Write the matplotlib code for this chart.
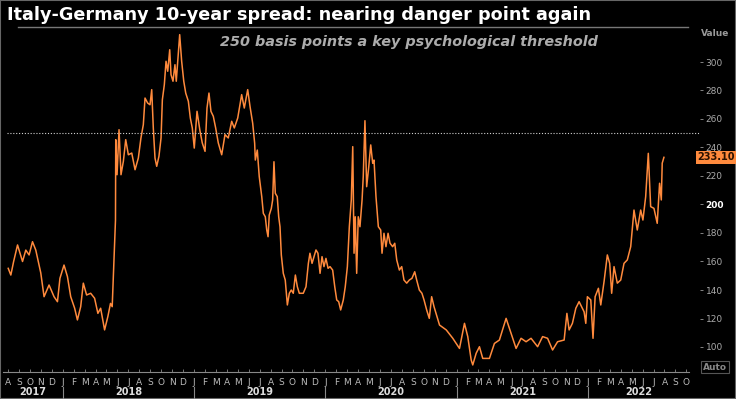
import matplotlib
matplotlib.use('Agg')
import matplotlib.pyplot as plt
from matplotlib import transforms
from matplotlib.patches import Rectangle
from matplotlib.lines import Line2D

# ---------------- data (decimal year, basis points) ----------------
dates = [
    2017.585, 2017.605, 2017.626, 2017.656, 2017.694, 2017.719, 2017.744, 2017.770,
    2017.795, 2017.833, 2017.858, 2017.896, 2017.934, 2017.960, 2017.979, 2018.010,
    2018.036, 2018.061, 2018.091, 2018.112, 2018.137, 2018.157, 2018.182, 2018.213,
    2018.243, 2018.268, 2018.289, 2018.319, 2018.344, 2018.364, 2018.377, 2018.402,
    2018.404, 2018.414, 2018.429, 2018.444, 2018.462, 2018.480, 2018.500, 2018.526,
    2018.551, 2018.576, 2018.596, 2018.614, 2018.627, 2018.647, 2018.665, 2018.678,
    2018.690, 2018.703, 2018.716, 2018.733, 2018.749, 2018.759, 2018.774, 2018.787,
    2018.800, 2018.815, 2018.825, 2018.840, 2018.855, 2018.865, 2018.876, 2018.891,
    2018.906, 2018.922, 2018.937, 2018.957, 2018.972, 2018.987, 2019.002, 2019.023,
    2019.046, 2019.063, 2019.084, 2019.099, 2019.114, 2019.129, 2019.147, 2019.165,
    2019.185, 2019.211, 2019.236, 2019.261, 2019.287, 2019.307, 2019.333, 2019.363,
    2019.383, 2019.409,
    2019.427, 2019.447, 2019.462, 2019.467, 2019.482, 2019.497, 2019.516, 2019.528,
    2019.543, 2019.554, 2019.564, 2019.573, 2019.589, 2019.599, 2019.609, 2019.619,
    2019.634, 2019.645, 2019.655, 2019.665, 2019.680, 2019.695, 2019.711, 2019.726,
    2019.741, 2019.756, 2019.772, 2019.787, 2019.802, 2019.832, 2019.853, 2019.871,
    2019.883, 2019.899, 2019.914, 2019.929, 2019.944, 2019.960, 2019.975, 2019.990,
    2020.005, 2020.021, 2020.036, 2020.056, 2020.072, 2020.087, 2020.102, 2020.117,
    2020.137, 2020.152, 2020.168, 2020.183, 2020.198, 2020.209, 2020.219, 2020.228,
    2020.239, 2020.251, 2020.264, 2020.280, 2020.289, 2020.302, 2020.315, 2020.331,
    2020.346, 2020.361, 2020.371, 2020.386, 2020.404, 2020.422, 2020.432, 2020.447,
    2020.462, 2020.478, 2020.493, 2020.513, 2020.529, 2020.544, 2020.564, 2020.582,
    2020.599, 2020.620, 2020.640, 2020.660, 2020.681, 2020.696, 2020.716, 2020.736,
    2020.752, 2020.772, 2020.792, 2020.810, 2020.828, 2020.843,
    2020.870, 2020.921, 2020.971, 2021.022, 2021.060, 2021.085, 2021.111, 2021.123,
    2021.149, 2021.174, 2021.199, 2021.250, 2021.288, 2021.326, 2021.377, 2021.415,
    2021.453, 2021.491, 2021.529, 2021.567, 2021.617, 2021.655, 2021.693, 2021.731,
    2021.769, 2021.819, 2021.840, 2021.857, 2021.882, 2021.908, 2021.933, 2021.971,
    2021.984, 2021.996, 2022.022, 2022.039, 2022.055, 2022.080, 2022.098, 2022.123,
    2022.148, 2022.166, 2022.181, 2022.199, 2022.224, 2022.250, 2022.275, 2022.300,
    2022.326, 2022.351, 2022.376, 2022.402, 2022.419, 2022.440, 2022.460, 2022.478,
    2022.503, 2022.528, 2022.546, 2022.559, 2022.566, 2022.579,
]
spread = [
    155.2, 150.5, 159.9, 171.6, 160.0, 168.0, 164.6, 173.9,
    168.0, 152.0, 135.3, 143.5, 135.3, 131.8, 148.2, 157.5,
    149.4, 135.3, 127.2, 119.0, 128.3, 144.8, 136.5, 137.7,
    134.2, 123.6, 127.2, 112.0, 121.4, 130.6, 128.3, 189.0,
    245.5, 220.9, 252.5, 220.9, 230.3, 245.5, 234.9, 236.1,
    224.4, 232.6, 246.7, 256.0, 274.7, 271.2, 270.0, 280.6,
    253.7, 232.6, 226.8, 233.8, 246.7, 273.5, 284.1, 300.5,
    293.5, 308.6, 291.1, 286.5, 298.1, 286.5, 300.5, 319.2,
    300.5, 286.5, 278.2, 272.4, 260.7, 253.7, 239.6, 265.4,
    251.4, 243.2, 237.3, 267.7, 278.2, 265.4, 261.9, 253.7,
    243.2, 234.9, 249.0, 246.7, 258.4, 253.7, 260.7, 277.1,
    267.7, 280.6,
    268.6, 257.0, 243.0, 231.2, 238.2, 219.5, 205.5, 193.8,
    191.4, 182.1, 177.4, 192.6, 197.3, 203.2, 230.0, 207.9,
    205.5, 191.4, 184.4, 164.6, 151.7, 147.0, 129.5, 137.7,
    140.0, 137.7, 150.5, 142.3, 137.7, 137.7, 142.3, 158.7,
    165.8, 158.7, 163.4, 168.1, 165.8, 151.7, 163.4, 156.4,
    162.2, 155.2, 156.4, 154.0, 142.3, 133.0, 131.8, 126.0,
    133.0, 142.3, 156.4, 184.4, 203.2, 240.6, 165.8, 191.4,
    151.7, 191.4, 184.4, 203.2, 219.5, 258.8, 212.5, 226.5,
    241.8, 228.9, 231.2, 205.5, 184.4, 182.1, 165.8, 179.8,
    170.4, 179.8, 172.8, 170.4, 172.8, 161.1, 154.0, 156.4,
    147.0, 144.8, 147.0, 148.2, 152.8, 147.0, 140.0, 137.7,
    133.0, 126.0, 120.1, 135.3, 128.3, 123.6,
    115.4, 112.0, 106.1, 99.0, 116.6, 107.3, 90.9, 87.4,
    95.6, 100.2, 92.0, 92.0, 102.5, 104.9, 120.1, 109.6,
    99.0, 106.1, 103.7, 106.1, 100.2, 107.3, 106.1, 97.9,
    103.7, 104.9, 123.6, 112.0, 116.6, 127.2, 131.8, 124.7,
    116.6, 135.3, 133.0, 106.1, 135.3, 141.2, 129.5, 145.9,
    164.6, 158.7, 137.7, 156.4, 144.8, 147.0, 158.7, 161.1,
    170.4, 196.1, 182.1, 196.1, 189.1, 205.5, 235.9, 198.5,
    197.3, 186.8, 214.9, 203.2, 229.0, 233.1,
]
y_ticks = [100, 120, 140, 160, 180, 200, 220, 240, 260, 280, 300]
month_letters = ['J', 'F', 'M', 'A', 'M', 'J', 'J', 'A', 'S', 'O', 'N', 'D']
years = [2017, 2018, 2019, 2020, 2021, 2022]
threshold = 250
last_value = 233.10
title = 'Italy-Germany 10-year spread: nearing danger point again'
subtitle = '250 basis points a key psychological threshold'

# ---------------- layout ----------------
W, H = 736, 399
ORANGE = '#ff8a3d'
fig = plt.figure(figsize=(W / 100, H / 100), dpi=100, facecolor='black')

ax_left, ax_right, ax_top, ax_bot = 3, 700, 28, 372
ax = fig.add_axes([ax_left / W, 1 - ax_bot / H, (ax_right - ax_left) / W, (ax_bot - ax_top) / H])
ax.set_facecolor('black')

x0_px, px_per_year = 62.7, 131.3
ax.set_xlim(2018 + (ax_left - x0_px) / px_per_year, 2018 + (ax_right - x0_px) / px_per_year)
y300_px, px_per_unit = 62, 1.425
ax.set_ylim(300 - (ax_bot - y300_px) / px_per_unit, 300 + (y300_px - ax_top) / px_per_unit)

ax.plot(dates, spread, color=ORANGE, lw=1.1, solid_joinstyle='round')
ax.axhline(threshold, xmin=4 / (ax_right - ax_left), xmax=1.0, color='#d0d0d0',
           lw=0.8, linestyle=(0, (1, 1.6)))

# x axis: month letters
mt, ml = [], []
for yr in range(2017, 2023):
    for m in range(1, 13):
        if (yr == 2017 and m < 8) or (yr == 2022 and m > 10):
            continue
        mt.append(yr + (m - 1) / 12)
        ml.append(month_letters[m - 1])
ax.set_xticks(mt)
ax.set_xticklabels(ml)
ax.tick_params(axis='x', direction='in', length=2, width=0.6, color='#888888',
               labelcolor='#bbbbbb', labelsize=6.5, pad=4)

# y axis on right
ax.yaxis.tick_right()
ax.set_yticks(y_ticks)
ax.set_yticklabels([str(v) for v in y_ticks])
ax.tick_params(axis='y', direction='out', length=2.5, width=0.6, color='#999999',
               labelcolor='#aaaaaa', labelsize=6.5, pad=1.5)
for lab, v in zip(ax.get_yticklabels(), y_ticks):
    if v == 200:
        lab.set_color('white')
        lab.set_fontweight('bold')

for s in ['top', 'left', 'right']:
    ax.spines[s].set_visible(False)
ax.spines['bottom'].set_color('#888888')
ax.spines['bottom'].set_linewidth(0.8)
ax.spines['bottom'].set_bounds(ax.get_xlim()[0], 2018 + (689 - x0_px) / px_per_year)

# year labels and separators
bt = transforms.blended_transform_factory(ax.transData, fig.transFigure)
xmin, xmax_lab = ax.get_xlim()[0], 2018 + (689 - x0_px) / px_per_year
for yr in years:
    a = max(yr, xmin)
    b = min(yr + 1, xmax_lab)
    fig.text((a + b) / 2, 1 - 392 / H, str(yr), transform=bt, ha='center', va='center',
             color='#dddddd', fontsize=7, fontweight='bold')
    if yr > 2017:
        fig.add_artist(Line2D([yr, yr], [1 - 387 / H, 1 - 398 / H], transform=bt,
                              color='#888888', lw=0.8))

# titles
fig.text(7 / W, 1 - 15 / H, title, ha='left', va='center', color='white',
         fontsize=12.7, fontweight='bold', family='DejaVu Sans')
fig.add_artist(Line2D([18 / W, 688 / W], [1 - 27 / H, 1 - 27 / H],
                      transform=fig.transFigure, color='#777777', lw=1))
fig.text(409 / W, 1 - 42 / H, subtitle, ha='center', va='center', color='#acacac',
         fontsize=10.4, fontweight='bold', style='italic', family='DejaVu Sans')

# right side annotations
fig.text(715 / W, 1 - 34 / H, 'Value', ha='center', va='center', color='#999999',
         fontsize=6.5, fontweight='bold')
vt = transforms.blended_transform_factory(fig.transFigure, ax.transData)
fig.text(716 / W, last_value, f'{last_value:.2f}', transform=vt, ha='center', va='center',
         color='#2b1200', fontsize=7, fontweight='bold',
         bbox=dict(boxstyle='square,pad=0.15', facecolor=ORANGE, edgecolor='none'))
fig.text(715 / W, 1 - 367 / H, 'Auto', ha='center', va='center', color='#888888',
         fontsize=6.5, fontweight='bold',
         bbox=dict(boxstyle='square,pad=0.2', facecolor='black', edgecolor='#555555', lw=0.8))

fig.add_artist(Rectangle((0, 0), 1, 1, transform=fig.transFigure, fill=False,
                         edgecolor='#666666', lw=1.5))

fig.savefig('out.png', dpi=100, facecolor='black')
